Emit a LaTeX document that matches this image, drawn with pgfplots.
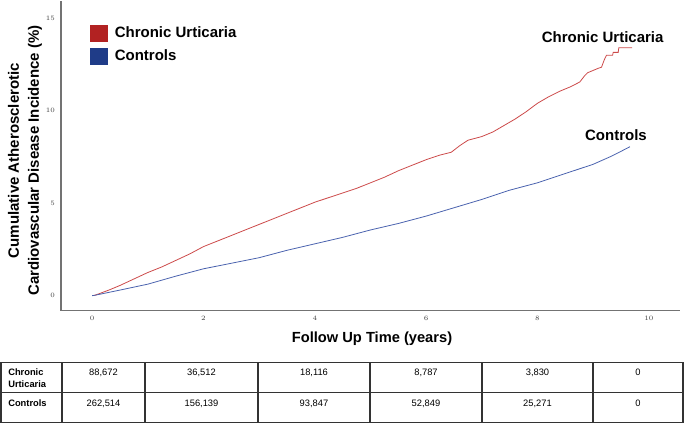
\documentclass[border=0pt]{standalone}
\usepackage{pgfplots}
\pgfplotsset{compat=1.18}
\usepackage{fontspec}
\setmainfont{Liberation Sans}
\definecolor{legred}{HTML}{B22222}
\definecolor{legblue}{HTML}{1F3C88}
\definecolor{linered}{HTML}{CC4A4A}
\definecolor{lineblue}{HTML}{4A62AE}
\begin{document}
\begin{tikzpicture}
\begin{scope}[x=0.75pt,y=-0.75pt]
\path[use as bounding box] (0,0) rectangle (685,423);
\end{scope}
\begin{axis}[
  at={(45.75pt,-232.5pt)}, anchor=south west, scale only axis,
  width=464.25pt, height=232.5pt,
  xmin=-0.56, xmax=10.56, ymin=-0.81, ymax=15.95,
  axis x line*=bottom, axis y line*=left,
  axis line style={draw=black!55, line width=0.9pt, -},
  xtick={0,2,4,6,8,10}, ytick={0,5,10,15},
  major tick length=0pt,
  tick label style={font=\fontsize{4.8}{5}\selectfont, text=black!75},
  xticklabel style={yshift=-1pt},
  yticklabel style={xshift=-1pt},
  clip=false,
  legend style={at={(0.0469,0.925)}, anchor=north west, draw=none, fill=none,
    font=\bfseries\fontsize{11.25}{12}\selectfont, row sep=3.8pt,
    inner sep=0pt, nodes={inner xsep=3pt}},
  legend cell align=left,
]
\addlegendimage{legend image code/.code={\fill[legred] (0pt,-5.8pt) rectangle (12.75pt,5.8pt);}}
\addlegendentry{\hspace{2.2pt}Chronic Urticaria}
\addlegendimage{legend image code/.code={\fill[legblue] (0pt,-5.8pt) rectangle (12.75pt,5.8pt);}}
\addlegendentry{\hspace{2.2pt}Controls}
\addplot[linered, line width=0.6pt, forget plot] coordinates {
(0.0,0) (0.05,0.02) (0.3,0.3) (0.5,0.55) (0.75,0.9) (1.0,1.25) (1.25,1.55)
(1.5,1.9) (1.75,2.25) (2.0,2.65) (2.25,2.95) (2.5,3.25) (2.75,3.55) (3.0,3.85)
(3.25,4.15) (3.5,4.45) (3.75,4.75) (4.0,5.05) (4.25,5.3) (4.5,5.55) (4.75,5.8)
(5.0,6.1) (5.25,6.4) (5.5,6.75) (5.75,7.05) (6.0,7.35) (6.25,7.6) (6.45,7.75)
(6.6,8.1) (6.75,8.4) (7.0,8.6) (7.2,8.85) (7.4,9.2) (7.6,9.55) (7.8,9.95)
(8.0,10.4) (8.2,10.75) (8.4,11.05) (8.6,11.3) (8.76,11.55) (8.85,11.9) (8.9,12.05)
(9.1,12.3) (9.15,12.35) (9.2,12.75) (9.24,13.0) (9.35,13.0) (9.36,13.15) (9.45,13.15)
(9.46,13.4) (9.7,13.4)
};
\addplot[lineblue, line width=0.6pt, forget plot] coordinates {
(0,0) (0.05,0.02) (0.5,0.3) (1.0,0.62) (1.5,1.05) (2.0,1.45) (2.5,1.75) (3.0,2.05)
(3.5,2.45) (4.0,2.8) (4.5,3.15) (5.0,3.55) (5.5,3.9) (6.0,4.3) (6.5,4.75) (7.0,5.2)
(7.5,5.7) (8.0,6.1) (8.5,6.6) (9.0,7.1) (9.3,7.5) (9.5,7.8) (9.66,8.05)
};
\node[font=\bfseries\fontsize{11.25}{12}\selectfont] at (axis cs:9.17,14.0) {Chronic Urticaria};
\node[font=\bfseries\fontsize{11.25}{12}\selectfont] at (axis cs:9.41,8.65) {Controls};
\end{axis}
\begin{scope}[x=0.75pt,y=-0.75pt]
\node[rotate=90, align=center, font=\bfseries\fontsize{11.25}{15}\selectfont] at (25,160)
  {Cumulative Atherosclerotic\\Cardiovascular Disease Incidence (\%)};
\node[font=\bfseries\fontsize{11}{12}\selectfont] at (372,338) {Follow Up Time (years)};
% table
\draw[black!80, line width=1.1pt] (1,362) rectangle (683,422);
\draw[black!80, line width=1.1pt] (1,392) -- (683,392);
\foreach \xx in {62,145,258,370,482,593} {\draw[black!80, line width=1.1pt] (\xx,362) -- (\xx,422);}
\begin{scope}[every node/.style={font=\fontsize{7}{8}\selectfont, inner sep=0pt}]
\node[anchor=west, font=\bfseries\fontsize{7}{8}\selectfont] at (8,372) {Chronic};
\node[anchor=west, font=\bfseries\fontsize{7}{8}\selectfont] at (8,384) {Urticaria};
\node[anchor=west, font=\bfseries\fontsize{7}{8}\selectfont] at (8,403) {Controls};
\node at (103.5,372) {88,672};
\node at (201.5,372) {36,512};
\node at (314,372) {18,116};
\node at (426,372) {8,787};
\node at (537.5,372) {3,830};
\node at (638,372) {0};
\node at (103.5,403) {262,514};
\node at (201.5,403) {156,139};
\node at (314,403) {93,847};
\node at (426,403) {52,849};
\node at (537.5,403) {25,271};
\node at (638,403) {0};
\end{scope}
\end{scope}
\end{tikzpicture}
\end{document}
